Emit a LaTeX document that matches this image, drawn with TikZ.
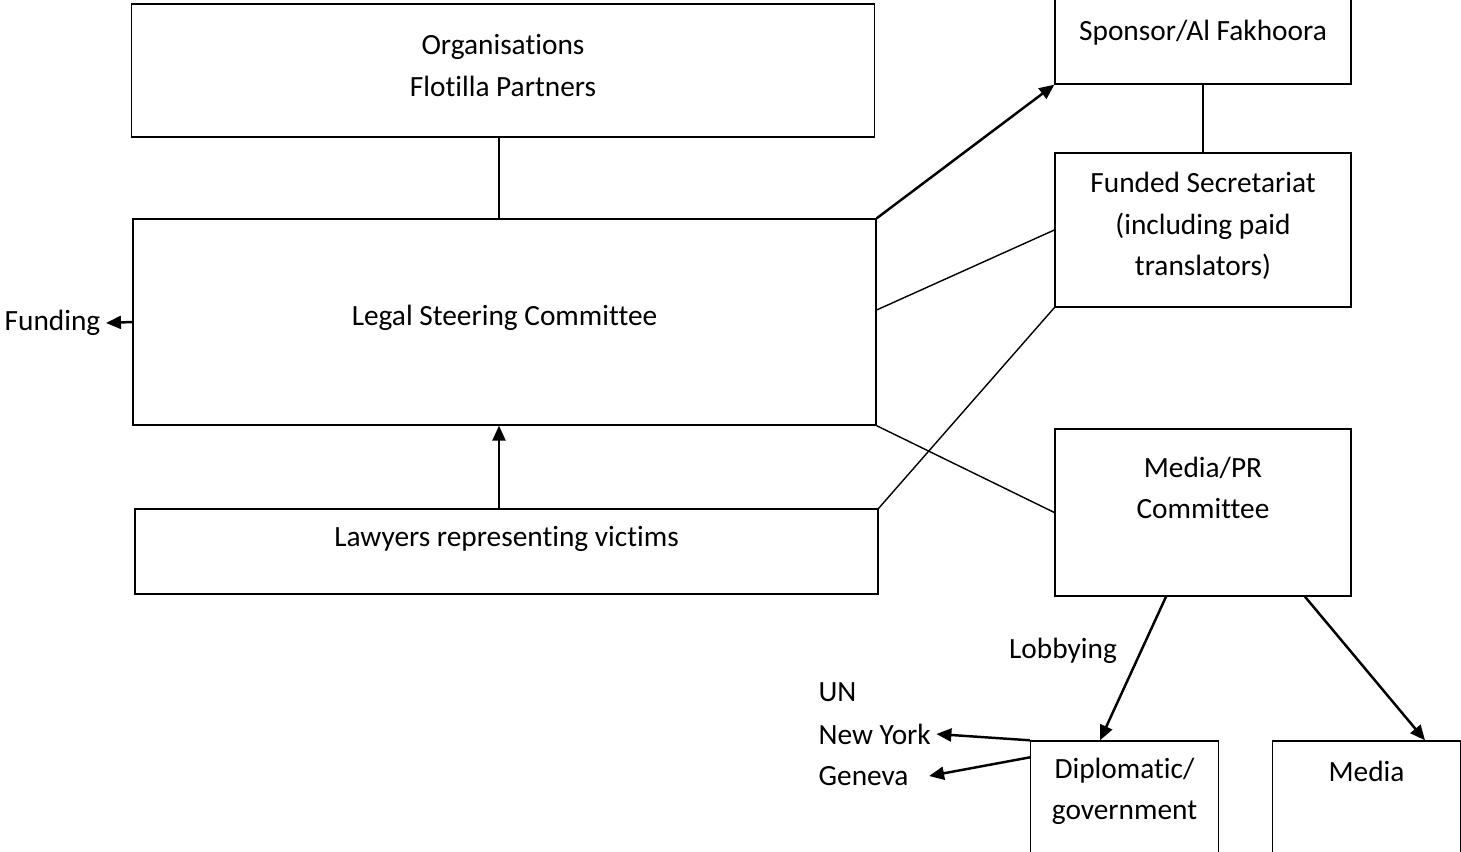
\documentclass[tikz,border=0pt]{standalone}
\usepackage{fontspec}
\setmainfont{Carlito}[Ligatures=NoCommon]
\usetikzlibrary{positioning, arrows.meta}

\begin{document}
\begin{tikzpicture}[x=0.02cm, y=-0.02cm,
    box/.style={rectangle, draw, line width=0.8pt, inner sep=0pt, align=center, font=\fontsize{16.7}{23.5}\selectfont},
    wide/.style={box, minimum width=14.86cm},
    side/.style={box, minimum width=5.92cm},
    low/.style={box, minimum width=3.75cm, minimum height=2.6cm},
    lbl/.style={font=\fontsize{16.7}{23.5}\selectfont, inner sep=3pt},
    arrow/.style={-{Triangle[length=0.3cm, width=0.26cm]}, line width=1.4pt},
    link/.style={line width=0.8pt}
]
\useasboundingbox (0,0) rectangle (1461,852);

% Boxes
\node[wide, minimum height=2.66cm, text depth=0.2cm] (org) at (503,70.5) {Organisations\\Flotilla Partners};
\node[side, minimum height=2.04cm] (sponsor) at (1203,33) {Sponsor/Al Fakhoora};
\node[side, minimum height=3.08cm, text depth=0.24cm] (funded) at (1203,230) {Funded Secretariat\\(including paid\\translators)};
\node[wide, minimum height=4.12cm, text depth=0.26cm] (steering) at (504.5,322) {Legal Steering Committee};
\node[wide, minimum height=1.7cm, text depth=0.62cm] (lawyers) at (506.5,551.5) {Lawyers representing victims};
\node[side, minimum height=3.34cm, text depth=1.0cm] (mediapr) at (1203,512.5) {Media/PR\\Committee};
\node[low, text depth=0.68cm] (diplomatic) at (1124.5,806) {Diplomatic/\\government};
\node[low, text depth=1.4cm] (media) at (1366.5,806) {Media};

% Labels
\node[lbl, anchor=east] (funding) at (106,323) {Funding};
\node[lbl, anchor=west] (un) at (813,692) {UN};
\node[lbl, anchor=west] (newyork) at (813,734) {New York};
\node[lbl, anchor=west] (geneva) at (813,776) {Geneva};
\node[lbl] (lobbying) at (1063,651) {Lobbying};

% Lines
\draw[link] ([xshift=-0.08cm]org.south) -- ([xshift=-0.08cm]org.south |- steering.north);
\draw[link] (sponsor.south) -- (funded.north);
\draw[link] ([yshift=0.24cm]steering.east) -- (funded.west);
\draw[link] (lawyers.north east) -- (funded.south west);
\draw[link] (steering.south east) -- (mediapr.west);

% Arrows
\draw[arrow] (steering.north east) -- (sponsor.south west);
\draw[arrow] ([xshift=-0.15cm]lawyers.north) -- ([xshift=-0.15cm]lawyers.north |- steering.south);
\draw[arrow] (steering.west) -- (funding.east);
\draw[arrow] ([xshift=-0.74cm]mediapr.south) -- ([xshift=-0.49cm]diplomatic.north);
\draw[arrow] ([xshift=2.04cm]mediapr.south) -- ([xshift=1.17cm]media.north);
\draw[arrow] (diplomatic.north west) -- (newyork.east);
\draw[arrow] ([yshift=-0.34cm]diplomatic.north west) -- ([xshift=0.3cm]geneva.east);

\end{tikzpicture}
\end{document}
